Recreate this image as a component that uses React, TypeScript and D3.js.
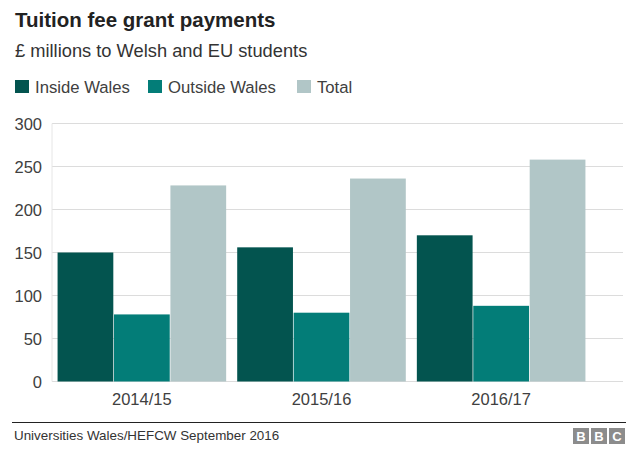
import React from "react";
import * as d3 from "d3";

const categories = ["2014/15", "2015/16", "2016/17"];
const seriesNames = ["Inside Wales", "Outside Wales", "Total"];
const insideWales = [150, 156, 170];
const outsideWales = [78, 80, 88];
const total = [228, 236, 258];
const yTicks = [0, 50, 100, 150, 200, 250, 300];
const colors = ["#03544f", "#037d78", "#b1c6c7"];

const W = 640;
const H = 457;
const FONT = "'Liberation Sans', Arial, Helvetica, sans-serif";

export default function App() {
  const series = [insideWales, outsideWales, total];
  const y = d3.scaleLinear().domain([0, 300]).range([381.5, 123.5]);
  const x0 = d3
    .scaleBand<string>()
    .domain(categories)
    .range([52, 591])
    .paddingInner(0.0615)
    .paddingOuter(0.031);
  const x1 = d3
    .scaleBand<string>()
    .domain(seriesNames)
    .range([0, x0.bandwidth()])
    .paddingInner(0.012);

  const legendX = [15, 148, 297];

  return (
    <svg
      width={W}
      height={H}
      style={{ position: "absolute", left: 0, top: 0, background: "#fff" }}
      fontFamily={FONT}
    >
      <rect x={0} y={0} width={W} height={H} fill="#fff" />
      <text x={15} y={27} fontSize={20.5} fontWeight="bold" fill="#222">
        Tuition fee grant payments
      </text>
      <text x={15} y={57} fontSize={18.3} fill="#333">
        £ millions to Welsh and EU students
      </text>
      {seriesNames.map((s, i) => (
        <g key={s}>
          <rect x={legendX[i]} y={80} width={14} height={13} fill={colors[i]} />
          <text x={legendX[i] + 20} y={93} fontSize={16.7} fill="#404040">
            {s}
          </text>
        </g>
      ))}

      {yTicks.map((t) => (
        <g key={t}>
          <line x1={52} x2={623} y1={y(t)} y2={y(t)} stroke="#dcdcdc" strokeWidth={1} />
          <text
            x={42}
            y={y(t) + 6}
            textAnchor="end"
            fontSize={16.5}
            fill="#404040"
          >
            {t}
          </text>
        </g>
      ))}
      <line x1={52} x2={52} y1={y(300)} y2={y(0)} stroke="#e6e6e6" strokeWidth={1} />

      {categories.map((c, ci) => (
        <g key={c} transform={`translate(${x0(c)},0)`}>
          {seriesNames.map((s, si) => {
            const v = series[si][ci];
            return (
              <rect
                key={s}
                x={x1(s)}
                y={y(v)}
                width={x1.bandwidth()}
                height={y(0) - y(v)}
                fill={colors[si]}
              />
            );
          })}
          <text
            x={x0.bandwidth() / 2}
            y={405}
            textAnchor="middle"
            fontSize={16.5}
            fill="#404040"
          >
            {c}
          </text>
        </g>
      ))}

      <line x1={12} x2={626} y1={422.5} y2={422.5} stroke="#222" strokeWidth={1.2} />
      <text x={14} y={440} fontSize={13.4} fill="#333">
        Universities Wales/HEFCW September 2016
      </text>
      {["B", "B", "C"].map((l, i) => (
        <g key={i}>
          <rect x={573 + i * 18} y={428} width={16} height={16} fill="#8c8c8c" />
          <text
            x={573 + i * 18 + 8}
            y={441}
            textAnchor="middle"
            fontSize={13}
            fontWeight="bold"
            fill="#fff"
          >
            {l}
          </text>
        </g>
      ))}
    </svg>
  );
}
